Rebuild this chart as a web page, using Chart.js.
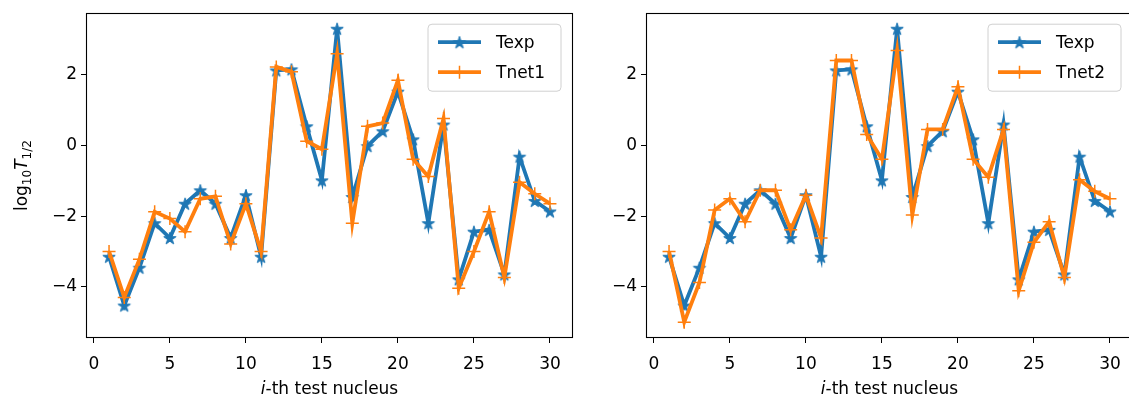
<!DOCTYPE html>
<html><head><meta charset="utf-8">
<script src="https://cdn.jsdelivr.net/npm/chart.js@4"></script>
<style>
html,body{margin:0;padding:0;background:#fff;overflow:hidden;width:1129px;height:399px;position:relative}
.wrap{position:absolute;top:0;width:580px;height:399px}
canvas{display:block}
</style></head><body>
<div class="wrap" style="left:0"><canvas id="c1" width="580" height="399"></canvas></div>
<div class="wrap" style="left:560px"><canvas id="c2" width="580" height="399"></canvas></div>
<script>
// ---- data ----
const nuclei = [1,2,3,4,5,6,7,8,9,10,11,12,13,14,15,16,17,18,19,20,21,22,23,24,25,26,27,28,29,30];
const texp  = [-3.15,-4.53,-3.46,-2.2,-2.62,-1.65,-1.27,-1.65,-2.62,-1.41,-3.15,2.12,2.15,0.54,-0.99,3.3,-1.46,-0.02,0.4,1.52,0.17,-2.2,0.59,-3.79,-2.44,-2.39,-3.65,-0.32,-1.57,-1.87];
const tnet1 = [-3.0,-4.3,-3.22,-1.88,-2.07,-2.44,-1.51,-1.44,-2.79,-1.65,-3.0,2.22,2.08,0.12,-0.11,2.59,-2.2,0.54,0.63,1.84,-0.39,-0.88,0.76,-4.04,-3.0,-1.88,-3.74,-1.04,-1.37,-1.65];
const tnet2 = [-3.0,-5.0,-3.88,-1.83,-1.51,-2.16,-1.27,-1.27,-2.39,-1.41,-2.62,2.4,2.4,0.31,-0.39,2.68,-1.97,0.45,0.45,1.66,-0.39,-0.9,0.45,-4.11,-2.74,-2.16,-3.74,-0.97,-1.3,-1.51];
const xTicks = [0,5,10,15,20,25,30];
const yTicks = [-4,-2,0,2];
const xRange = [-0.45, 31.45];
const yRange = [-5.42, 3.71];
const labels1 = ['Texp','Tnet1'];
const labels2 = ['Texp','Tnet2'];

const BLUE = '#1f77b4', ORANGE = '#ff7f0e';
const FONT = 'DejaVu Sans';

function starCanvas(color, r) {
  const size = Math.ceil(r*2+3);
  const c = document.createElement('canvas'); c.width = c.height = size;
  const g = c.getContext('2d');
  g.translate(size/2, size/2 + r*0.1);
  g.beginPath();
  for (let i=0;i<10;i++){ const rr = i%2 ? r*0.382 : r; const a = -Math.PI/2 + i*Math.PI/5; g.lineTo(rr*Math.cos(a), rr*Math.sin(a)); }
  g.closePath(); g.fillStyle = color; g.fill(); g.lineWidth = 1; g.strokeStyle = color; g.stroke();
  return c;
}
const star = starCanvas(BLUE, 6.5);

const pts = vals => nuclei.map((n,i)=>({x:n, y:vals[i]}));
const minus = v => String(v).replace('-', '\u2212');

function makeDatasets(labs, other) {
  return [
    {label: labs[0], data: pts(texp), borderColor: BLUE, backgroundColor: BLUE, borderWidth: 3.8,
     pointStyle: star, pointRadius: 6, pointBorderWidth: 0, tension: 0, order: 2},
    {label: labs[1], data: pts(other), borderColor: ORANGE, backgroundColor: ORANGE, borderWidth: 3.8,
     pointStyle: 'cross', pointRadius: 6.5, pointBorderWidth: 1.5, tension: 0, order: 1}
  ];
}

function makeScales() {
  const tickFont = {family: FONT, size: 17};
  const grid = {display: true, drawOnChartArea: false, drawTicks: true, tickLength: 6, tickWidth: 1, tickColor: '#000'};
  return {
    x: {type: 'linear', min: xRange[0], max: xRange[1],
        afterBuildTicks: s => { s.ticks = xTicks.map(v => ({value: v})); },
        afterFit: s => { s.height = 62; },
        grid: grid, border: {display: false},
        ticks: {color: '#000', font: tickFont, padding: 11, maxRotation: 0, autoSkip: false, callback: v => minus(v)}},
    y: {type: 'linear', min: yRange[0], max: yRange[1],
        afterBuildTicks: s => { s.ticks = yTicks.map(v => ({value: v})); },
        afterFit: s => { s.width = 87; },
        grid: grid, border: {display: false},
        ticks: {color: '#000', font: tickFont, padding: 4, autoSkip: false, callback: v => minus(v)}}
  };
}

const framePlugin = {
  id: 'frame',
  afterDatasetsDraw(chart) {
    const ca = chart.chartArea, ctx = chart.ctx;
    ctx.save(); ctx.strokeStyle = '#000'; ctx.lineWidth = 1.1;
    ctx.strokeRect(Math.round(ca.left) - 0.5, Math.round(ca.top) - 0.5, Math.round(ca.right - ca.left) + 1, Math.round(ca.bottom - ca.top) + 1);
    ctx.restore();
  }
};

function drawMarker(ctx, ds, x, y) {
  if (ds.pointStyle instanceof HTMLCanvasElement) {
    ctx.drawImage(ds.pointStyle, x - ds.pointStyle.width/2, y - ds.pointStyle.height/2);
  } else {
    ctx.strokeStyle = ds.borderColor; ctx.lineWidth = ds.pointBorderWidth;
    ctx.beginPath(); ctx.moveTo(x - ds.pointRadius, y); ctx.lineTo(x + ds.pointRadius, y);
    ctx.moveTo(x, y - ds.pointRadius); ctx.lineTo(x, y + ds.pointRadius); ctx.stroke();
  }
}

const legendPlugin = {
  id: 'mplLegend',
  afterDraw(chart) {
    const ca = chart.chartArea, ctx = chart.ctx;
    const w = 133, h = 67, x = ca.right - 11 - w, y = ca.top + 10, r = 4;
    ctx.save();
    ctx.beginPath();
    ctx.moveTo(x + r, y); ctx.arcTo(x + w, y, x + w, y + h, r); ctx.arcTo(x + w, y + h, x, y + h, r);
    ctx.arcTo(x, y + h, x, y, r); ctx.arcTo(x, y, x + w, y, r); ctx.closePath();
    ctx.fillStyle = 'rgba(255,255,255,0.8)'; ctx.fill();
    ctx.strokeStyle = '#d0d0d0'; ctx.lineWidth = 1; ctx.stroke();
    chart.data.datasets.forEach((ds, i) => {
      const ry = y + 18 + i * 30;
      ctx.strokeStyle = ds.borderColor; ctx.lineWidth = ds.borderWidth; ctx.lineCap = 'butt';
      ctx.beginPath(); ctx.moveTo(x + 10, ry); ctx.lineTo(x + 53, ry); ctx.stroke();
      drawMarker(ctx, ds, x + 31.5, ry);
      ctx.fillStyle = '#000'; ctx.font = '17px "' + FONT + '"'; ctx.textBaseline = 'middle'; ctx.textAlign = 'left';
      ctx.fillText(ds.label, x + 68, ry + 1);
    });
    ctx.restore();
  }
};

function drawRich(ctx, parts, cx, baseY) {
  let total = 0;
  parts.forEach(p => { ctx.font = p.font; p.w = ctx.measureText(p.t).width; total += p.w; });
  let x = cx - total/2;
  ctx.textAlign = 'left'; ctx.textBaseline = 'alphabetic'; ctx.fillStyle = '#000';
  parts.forEach(p => { ctx.font = p.font; ctx.fillText(p.t, x, baseY + (p.dy || 0)); x += p.w; });
}

const titlesPlugin = {
  id: 'axisTitles',
  afterDraw(chart, args, opts) {
    const ca = chart.chartArea, ctx = chart.ctx;
    ctx.save();
    drawRich(ctx, [
      {t: 'i', font: 'italic 17px "' + FONT + '"'},
      {t: '-th test nucleus', font: '17px "' + FONT + '"'}
    ], (ca.left + ca.right)/2, 394);
    if (opts.yTitle) {
      ctx.translate(27, (ca.top + ca.bottom)/2);
      ctx.rotate(-Math.PI/2);
      drawRich(ctx, [
        {t: 'log', font: '17px "' + FONT + '"'},
        {t: '10', font: '12px "' + FONT + '"', dy: 4},
        {t: 'T', font: 'italic 17px "' + FONT + '"'},
        {t: '1/2', font: '12px "' + FONT + '"', dy: 4}
      ], 0, 0);
    }
    ctx.restore();
  }
};

function makeChart(id, labs, other, yTitle) {
  return new Chart(document.getElementById(id), {
    type: 'line',
    data: {datasets: makeDatasets(labs, other)},
    options: {
      responsive: false, animation: false, devicePixelRatio: 1,
      layout: {padding: {top: 10, right: 5, left: 0, bottom: 0}},
      scales: makeScales(),
      plugins: {legend: {display: false}, tooltip: {enabled: false}, axisTitles: {yTitle: yTitle}}
    },
    plugins: [framePlugin, legendPlugin, titlesPlugin]
  });
}

makeChart('c1', labels1, tnet1, true);
makeChart('c2', labels2, tnet2, false);
</script>
</body></html>
